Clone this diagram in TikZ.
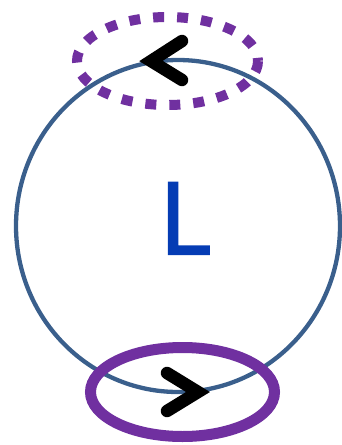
\documentclass[tikz,border=0pt]{standalone}
\usepackage{fontspec}
\newfontfamily\lfont[FakeBold=2.2]{Open Sans}
\definecolor{ringblue}{RGB}{58,95,140}
\definecolor{loopurple}{RGB}{112,48,160}
\definecolor{letterblue}{RGB}{5,60,180}
\tikzset{
  chevron/.style={draw=black,line width=12.5pt,line cap=round,line join=miter},
  loopring/.style={draw=loopurple,line width=11pt},
}
\begin{document}
\begin{tikzpicture}[x=1pt,y=-1pt]
\useasboundingbox (0,0) rectangle (341,445);
% large circle
\draw[ringblue,line width=4.3pt] (178,226) ellipse [x radius=162,y radius=166];
% top dotted loop
\draw[loopring,line width=10pt,dash pattern=on 11pt off 13pt] (167.5,61) ellipse [x radius=90.5,y radius=44];
% bottom solid loop
\draw[loopring] (182.5,392) ellipse [x radius=92,y radius=44.5];
% chevrons
\draw[chevron] (182,41) -- (151,61) -- (182,80);
\draw[chevron] (167,373) -- (198,392) -- (167,411);
% letter
\node[text=letterblue,font=\lfont\fontsize{100}{100}\selectfont,inner sep=0pt,anchor=base] (lbl) at (185,254) {L};
\end{tikzpicture}
\end{document}
